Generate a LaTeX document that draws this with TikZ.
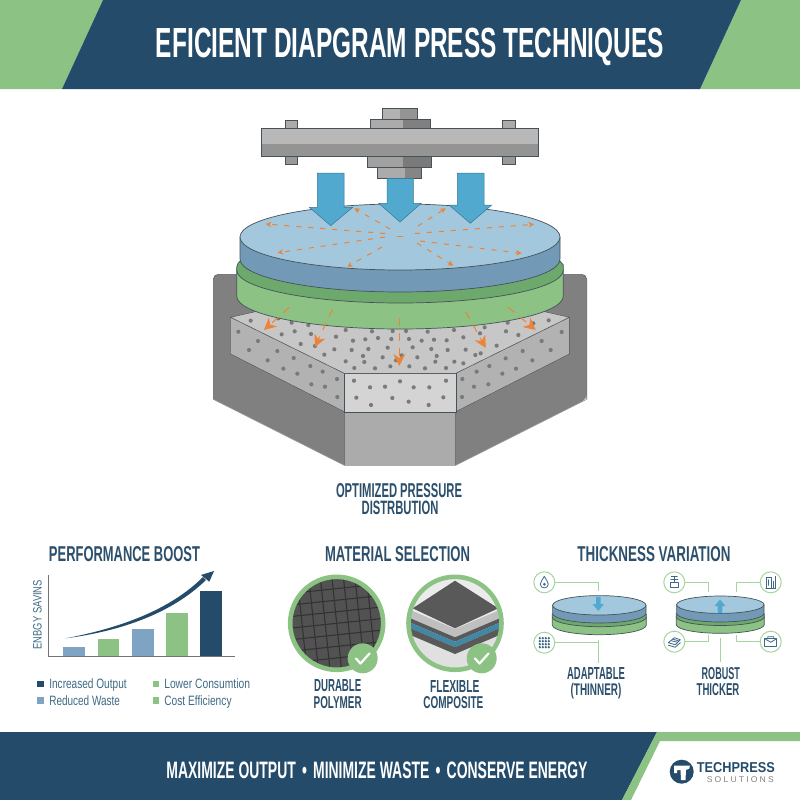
\documentclass[tikz,border=0pt]{standalone}
\usepackage{fontspec}
\usepackage{graphicx}
\usetikzlibrary{arrows.meta}
\newfontfamily\capsfont[BoldFont={Liberation Sans Bold}]{Liberation Sans}
\newfontfamily\spacedfont[LetterSpace=25]{Liberation Sans}
\definecolor{navy}{HTML}{244B69}
\definecolor{inknavy}{HTML}{2C4F6B}
\definecolor{leaf}{HTML}{8CC385}
\definecolor{darkleaf}{HTML}{6DA96C}
\definecolor{paleleaf}{HTML}{A5D5A0}
\definecolor{discblue}{HTML}{A3C8DE}
\definecolor{sideblue}{HTML}{7299B5}
\definecolor{pressblue}{HTML}{52A9CF}
\definecolor{orangeA}{HTML}{EE8236}
\definecolor{edge}{HTML}{46525A}
\definecolor{barblue}{HTML}{7FA3C2}
\definecolor{iconink}{HTML}{3D6A85}
\newcommand{\fitbox}[3]{\resizebox{#1pt}{#2pt}{\capsfont\bfseries #3}}
\newcommand{\fitreg}[3]{\resizebox{#1pt}{#2pt}{\capsfont #3}}
\newcommand{\smalldisc}[8]{%
 % cx, cy, rx, ry, blue thickness, dark-green centre, light-green centre, green rx
 \draw[discline,fill=leaf] ({#1-#8},#6) -- ({#1-#8},#7) arc[start angle=180,end angle=360,x radius=#8pt,y radius=#4pt] -- ({#1+#8},#6) -- cycle;
 \draw[discline,fill=darkleaf] ({#1-#8},#6-3) -- ({#1-#8},#6) arc[start angle=180,end angle=360,x radius=#8pt,y radius=#4pt] -- ({#1+#8},#6-3) -- cycle;
 \draw[discline,fill=sideblue] ({#1-#3},#2) -- ({#1-#3},#2+#5) arc[start angle=180,end angle=360,x radius=#3pt,y radius=#4pt] -- ({#1+#3},#2) -- cycle;
 \draw[discline,fill=discblue] (#1,#2) ellipse[x radius=#3pt,y radius=#4pt];
}
\tikzset{
 txt/.style={inner sep=0pt,outer sep=0pt,text=inknavy},
 steel/.style={draw=edge,line width=.6pt},
 discline/.style={draw=edge,line width=.7pt},
 pressarrow/.style={draw=black!30!pressblue,line width=.5pt,fill=pressblue},
 flowarrow/.style={draw=orangeA,line width=1pt,dash pattern=on 5pt off 7pt,-{Stealth[length=5.5pt,width=5.5pt]}},
 bigflow/.style={draw=orangeA,line width=1pt,dash pattern=on 8pt off 7pt,-{Stealth[length=12pt,width=12pt]}},
 iconring/.style={circle,draw=paleleaf,line width=1pt,minimum size=21pt,inner sep=0pt,fill=white},
 leader/.style={draw=paleleaf,line width=1pt},
 badge/.style={circle,fill=leaf,minimum size=30pt,inner sep=0pt},
 tick/.style={draw=white,line width=2.2pt,line cap=round,line join=round},
 ico/.style={draw=iconink,line width=.8pt,line cap=round,line join=round},
 legendbox/.style={minimum size=6.6pt,inner sep=0pt},
}
\begin{document}
\begin{tikzpicture}[x=1pt,y=-1pt]
\useasboundingbox (0,0) rectangle (800,800);
\fill[white] (0,0) rectangle (800,800);
% header
\fill[leaf] (0,0) -- (103,0) -- (62,89) -- (0,89) -- cycle;
\fill[leaf] (741,0) -- (800,0) -- (800,89) -- (700,89) -- cycle;
\fill[navy] (103,0) -- (741,0) -- (700,89) -- (62,89) -- cycle;
\node[txt,text=white,anchor=base] (title) at (410,58) {\fitbox{508}{29.4}{EFICIENT DIAPGRAM PRESS TECHNIQUES}};
% footer
\fill[navy] (0,732) -- (657,732) -- (622,800) -- (0,800) -- cycle;
\fill[leaf] (657,732) -- (800,732) -- (800,741) -- (660,741) -- (631,800) -- (622,800) -- cycle;
\node[txt,text=white] (slogan) at (377,770) {\fitbox{421}{16.6}{MAXIMIZE OUTPUT \,•\, MINIMIZE WASTE \,•\, CONSERVE ENERGY}};
% logo
\node[circle,fill=navy,minimum size=24pt,inner sep=0pt] (logo) at (681.7,771.7) {};
\fill[white] (674,765.5) -- (690,765.5) .. controls (690,768) and (689,770) .. (686,770) -- (685.5,780) -- (681,780) -- (680.5,770) -- (677,770) -- (677,773) -- (674,773) -- cycle;
\node[txt,text=navy] (tech) at (735.8,767.7) {\fitbox{78}{10}{TECHPRESS}};
\node[txt,text=black!50] (sol) at (740.3,779.2) {\resizebox{67pt}{5.8pt}{\spacedfont SOLUTIONS}};
% press base
\fill[black!50,rounded corners=5pt] (213.3,399.3) -- (213.3,274.3) -- (586.7,274.3) -- (586.7,399.3) [sharp corners] -- (455.7,465.3) -- (344.3,465.3) -- cycle;
\draw[black!62,line width=.6pt,rounded corners=5pt] (213.3,399.3) -- (213.3,274.3) -- (586.7,274.3) -- (586.7,399.3);
\draw[black!40,line width=.6pt] (213.3,399.3) -- (344.3,465.3) -- (455.7,465.3) -- (586.7,399.3);
\fill[black!33] (344.3,411.7) rectangle (455.7,465.3);
\draw[black!55,line width=.5pt] (344.3,411.7) -- (344.3,465.3) (455.7,411.7) -- (455.7,465.3);
% concrete block
\draw[edge,fill=black!30] (230.7,317.3) -- (230.7,354) -- (344.3,411.7) -- (344.3,373.3) -- cycle;
\draw[edge,fill=black!30] (569.3,317.3) -- (569.3,354) -- (455.7,411.7) -- (455.7,373.3) -- cycle;
\draw[edge,fill=black!17] (344.3,373.3) rectangle (455.7,411.7);
\draw[edge,fill=black!22] (230.7,317.3) -- (263,310) -- (537,310) -- (569.3,317.3) -- (455.7,373.3) -- (344.3,373.3) -- cycle;
\foreach \px/\py in {152/152,115/185,174/213,147/240,232/243,203/271,281/264,250/296,292/311,331/288,368/305,334/343,375/350,411/327,412/381,235/145,275/158,325/165,245/193,284/184,333/192,302/222,408/200,437/180,516/184,578/183,618/183,683/185,762/180,854/172,923/158,1000/160,1046/151,1085/186,1025/213,1052/240,968/243,997/271,917/265,948/296,907/311,868/288,830/305,865/343,822/350,787/327,786/381,459/212,496/208,534/204,574/207,627/207,665/212,702/209,740/211,790/202,840/190,890/227,918/184,955/195,345/228,403/238,455/240,505/237,563/233,638/232,694/237,743/240,797/239,842/250,373/254,489/258,548/262,605/256,652/262,710/258,826/255,437/274,493/276,588/271,706/275,763/275,463/294,525/295,571/289,628/289,675/295,738/294,790/280,462/332,510/352,555/350,600/334,641/352,688/352,738/332,469/383,513/405,577/384,626/395,686/405,730/382}
  \fill[black!52] ({200+\px/3},{270+\py/3}) circle[radius=2.1pt];
% press plate
\fill[black!30] (382.7,108) rectangle (400,119);
\fill[black!42] (400,108) rectangle (417.3,119);
\draw[steel] (382.7,108) rectangle (417.3,119);
\fill[black!33] (370,119) rectangle (403,128.3);
\fill[black!50] (403,119) rectangle (430,128.3);
\draw[steel] (370,119) rectangle (430,128.3);
\foreach \bx in {285,502.3} {
  \fill[black!33] (\bx,120) rectangle +(12.7,8.3);
  \draw[steel] (\bx,120) rectangle +(12.7,8.3);
  \fill[black!40] (\bx,156.7) rectangle +(12.7,7.6);
  \draw[steel] (\bx,156.7) rectangle +(12.7,7.6);
}
\fill[black!37] (367.7,156.7) rectangle (403,167.7);
\fill[black!52] (403,156.7) rectangle (431.7,167.7);
\draw[steel] (367.7,156.7) rectangle (431.7,167.7);
\fill[black!33] (377.7,167.7) rectangle (405,178.3);
\fill[black!48] (405,167.7) rectangle (421.7,178.3);
\draw[steel] (377.7,167.7) rectangle (421.7,178.3);
\fill[black!28] (261.7,128.3) rectangle (538,144);
\fill[black!42] (261.7,144) rectangle (538,156.7);
\draw[steel] (261.7,128.3) rectangle (538,156.7);
% green layers
\draw[discline,fill=leaf] (236.7,270) -- (236.7,296) arc[start angle=180,end angle=360,x radius=163.3pt,y radius=33pt] -- (563.3,270) -- cycle;
\draw[discline,fill=darkleaf,rounded corners=2pt] (240,261) -- (236.7,265) [sharp corners] -- (236.7,270) arc[start angle=180,end angle=360,x radius=163.3pt,y radius=33pt] -- (563.3,265) -- (560,261) -- cycle;
% blue disc
\draw[discline,fill=sideblue] (240,237) -- (240,259) arc[start angle=180,end angle=360,x radius=160pt,y radius=33pt] -- (560,237) -- cycle;
\draw[discline,fill=discblue] (400,237) ellipse[x radius=160pt,y radius=33pt];
% radial arrows
\foreach \ex/\ey/\sx/\sy in {265.7/224/385/233.5, 277.7/252.7/385/237, 347.3/266.7/382/247, 354.3/208.3/390/229, 445.7/208.3/418/226, 534/224.3/415/233.5, 521.7/253.3/420/241, 453.3/265.7/417/243}
  \draw[flowarrow] (\sx,\sy) -- (\ex,\ey);
\draw[orangeA,line width=1pt] (397,236) -- (403,236);
% press arrows
\draw[pressarrow] (317.3,173) -- (344,173) -- (344,207.3) -- (352.7,207.3) -- (330.7,225.7) -- (309.3,207.3) -- (317.3,207.3) -- cycle;
\draw[pressarrow] (387,178.3) -- (413.3,178.3) -- (413.3,203.3) -- (421.3,203.3) -- (400,222) -- (378.7,203.3) -- (387,203.3) -- cycle;
\draw[pressarrow] (457.3,173) -- (484,173) -- (484,205) -- (491.7,205) -- (470.3,223.3) -- (449,205) -- (457.3,205) -- cycle;
% flow into the block
\draw[bigflow] (289.3,307.3) -- (264,330);
\draw[bigflow] (332.3,309.3) -- (315,347);
\draw[bigflow] (399.3,318.3) -- (399.3,366);
\draw[bigflow] (465.7,311.7) -- (485.7,348);
\draw[bigflow] (508.3,307.3) -- (535.7,330);
% captions
\node[txt] (cap1) at (399,490.3) {\fitbox{126}{14}{OPTIMIZED PRESSURE}};
\node[txt] (cap2) at (400,508.3) {\fitbox{76.7}{13.5}{DISTRBUTION}};
% section titles
\node[txt] (h1) at (124.5,554) {\fitbox{151}{15}{PERFORMANCE BOOST}};
\node[txt] (h2) at (397.5,554) {\fitbox{145}{15}{MATERIAL SELECTION}};
\node[txt] (h3) at (654,554) {\fitbox{153}{15}{THICKNESS VARIATION}};
% chart
\fill[barblue] (62.7,647.3) rectangle (85,656.7);
\fill[leaf] (98,639.3) rectangle (119.3,656.7);
\fill[barblue] (132.3,629) rectangle (153.7,656.7);
\fill[leaf] (166.3,613.3) rectangle (187.7,656.7);
\fill[navy] (200.3,591.3) rectangle (221.7,656.7);
\draw[black!55,line width=.9pt] (48.3,575) -- (48.3,656.7) -- (235,656.7);
\fill[navy] (65.7,638.3) .. controls (120,628) and (170,610) .. (203,577) -- (206,580) .. controls (172,613) and (122,631) .. cycle;
\fill[navy] (214,571) -- (201,575) -- (209.3,581.7) -- cycle;
\node[txt,rotate=90,text=iconink] (ylab) at (37.5,614.7) {\fitreg{69.3}{8.5}{ENBGY SAVINS}};
% legend
\node[legendbox,fill=navy] (k1) at (40.7,684) {};
\node[legendbox,fill=barblue] (k2) at (40.7,700.3) {};
\node[legendbox,fill=leaf] (k3) at (156,684) {};
\node[legendbox,fill=leaf] (k4) at (156,700.3) {};
\node[txt,anchor=base west,text=iconink] (l1) at (49.3,688.5) {\fitreg{77.4}{9.8}{Increased Output}};
\node[txt,anchor=base west,text=iconink] (l2) at (49.3,705) {\fitreg{70.7}{9.8}{Reduced Waste}};
\node[txt,anchor=base west,text=iconink] (l3) at (164.3,688.5) {\fitreg{85.7}{9.8}{Lower Consumtion}};
\node[txt,anchor=base west,text=iconink] (l4) at (164.3,705) {\fitreg{67.3}{9.8}{Cost Efficiency}};
% material circles
\begin{scope}
\clip (336.7,623.3) circle[radius=46pt];
\fill[black!68] (280,570) rectangle (395,680);
\begin{scope}[rotate around={6:(336.7,623.3)}]
\foreach \k in {-5,...,5} {
  \draw[black!80,line width=1.1pt] ({336.7+\k*11.5},560) -- ({336.7+\k*11.5},690);
  \draw[black!80,line width=1.1pt] (275,{623.3+\k*11.5}) -- (400,{623.3+\k*11.5});
}
\end{scope}
\end{scope}
\draw[leaf,line width=4.6pt] (336.7,623.3) circle[radius=46.5pt];
\begin{scope}
\clip (455,623.3) circle[radius=46pt];
\fill[black!8] (400,570) rectangle (510,680);
\fill[black!12] (400,628) rectangle (510,680);
\fill[black!65] (455,580.7) -- (498.3,608.3) -- (455,628.3) -- (412.7,608.3) -- cycle;
\fill[black!25] (408,609) -- (455,629) -- (502,609) -- (502,617.3) -- (455,637.3) -- (408,617.3) -- cycle;
\fill[black!65] (408,617.3) -- (455,637.3) -- (502,617.3) -- (502,621.7) -- (455,641.7) -- (408,621.7) -- cycle;
\fill[black!20!pressblue] (408,621.7) -- (455,641.7) -- (502,621.7) -- (502,627.3) -- (455,647.3) -- (408,627.3) -- cycle;
\fill[black!65] (408,627.3) -- (455,647.3) -- (502,627.3) -- (502,634) -- (455,654) -- (408,634) -- cycle;
\end{scope}
\draw[leaf,line width=4.6pt] (455,623.3) circle[radius=46.5pt];
\node[badge] (b1) at (362.7,658.3) {};
\node[badge] (b2) at (481.7,658.3) {};
\draw[tick] (356,658.5) -- (360.5,663.5) -- (369.5,653.5);
\draw[tick] (475,658.5) -- (479.5,663.5) -- (488.5,653.5);
\node[txt] (m1) at (337.7,686) {\fitbox{47.3}{12}{DURABLE}};
\node[txt] (m2) at (337.7,702.7) {\fitbox{48}{12}{POLYMER}};
\node[txt] (m3) at (454.7,686) {\fitbox{49.3}{12}{FLEXIBLE}};
\node[txt] (m4) at (453.3,702.7) {\fitbox{60}{12}{COMPOSITE}};
% thickness discs
\smalldisc{599.3}{605.3}{46.7}{9.7}{8}{617}{625}{47}
\smalldisc{720.3}{604.7}{43.7}{8.7}{8.6}{616.8}{624.6}{44}
\fill[pressblue] (596,596.7) -- (600.7,596.7) -- (600.7,604) -- (604,604) -- (598.3,611) -- (592.6,604) -- (596,604) -- cycle;
\fill[pressblue] (717.7,613) -- (722.3,613) -- (722.3,606) -- (725.5,606) -- (720,599.5) -- (714.5,606) -- (717.7,606) -- cycle;
% icon rings
\node[iconring] (ia) at (544.3,582.3) {};
\node[iconring] (ib) at (544.3,642.7) {};
\node[iconring] (ic) at (674.3,582.3) {};
\node[iconring] (id) at (770.7,582.3) {};
\node[iconring] (ie) at (674.3,641.7) {};
\node[iconring] (if) at (770.7,641.7) {};
% leaders
\coordinate (ca) at (598.3,591);
\coordinate (cb) at (598.3,640);
\coordinate (cb2) at (598.3,662.7);
\coordinate (cc) at (708.7,592.3);
\coordinate (cd) at (736.7,592.3);
\coordinate (ce) at (708.7,635.3);
\coordinate (cf) at (736.7,635.3);
\coordinate (cg) at (720,638.3);
\coordinate (cg2) at (720,662.3);
\draw[leader] (ia.east) -| (ca);
\draw[leader] (ib.east) -| (cb);
\draw[leader] (cb) -- (cb2);
\draw[leader] (ic.east) -| (cc);
\draw[leader] (id.west) -| (cd);
\draw[leader] (ie.east) -| (ce);
\draw[leader] (if.west) -| (cf);
\draw[leader] (cg) -- (cg2);
% icon glyphs
\begin{scope}[shift={(544.3,582.3)}]
\draw[ico] (0,-6) .. controls (-1.5,-2.5) and (-4,-1) .. (-4,2) .. controls (-4,4.5) and (-2,5.5) .. (0,5.5) .. controls (2,5.5) and (4,4.5) .. (4,2) .. controls (4,-1) and (1.5,-2.5) .. (0,-6) -- cycle;
\fill[iconink] (0,2) circle[radius=1.5pt];
\end{scope}
\begin{scope}[shift={(544.3,642.7)}]
\foreach \gx in {-4.5,-1.5,1.5,4.5} \foreach \gy in {-4.5,-1.5,1.5,4.5}
  \fill[iconink] (\gx,\gy) circle[radius=1.3pt];
\end{scope}
\begin{scope}[shift={(674.3,582.3)}]
\draw[ico] (-4,0) rectangle (4,5);
\draw[ico] (-3,-6) -- (3,-6) (0,-6) -- (0,0) (-3.5,-3) -- (3.5,-3);
\end{scope}
\begin{scope}[shift={(770.7,582.3)}]
\draw[ico] (-5,6) -- (5,6) (-4,6) -- (-4,-5) -- (1,-5) -- (1,6) (-2,-2.5) -- (-2,3) (3,6) -- (3,-1) (4.5,6) -- (4.5,-6);
\end{scope}
\begin{scope}[shift={(674.3,641.7)}]
\draw[ico] (-6,1) -- (0,-4) -- (6,-2) -- (1,3) -- cycle;
\draw[ico] (-6,3.5) -- (1,5.5) -- (6,1) (-3,-1) -- (3,0.5) (-1.5,-2.5) -- (4,-1);
\end{scope}
\begin{scope}[shift={(770.7,641.7)}]
\draw[ico] (-6,-3) -- (6,-3) -- (6,5) -- (-6,5) -- cycle;
\draw[ico] (-6,-3) -- (0,0.5) -- (6,-3) (-3,-3) -- (-3,-5) -- (3,-5) -- (3,-3);
\end{scope}
\node[txt,anchor=base] (t1) at (596,679.3) {\fitbox{57.7}{12}{ADAPTABLE}};
\node[txt,anchor=base] (t2) at (596,695.5) {\fitbox{50.7}{12.2}{(THINNER)}};
\node[txt,anchor=base] (t3) at (720.8,679.3) {\fitbox{38.3}{12}{ROBUST}};
\node[txt,anchor=base] (t4) at (718,695.5) {\fitbox{42.7}{12}{THICKER}};
\end{tikzpicture}
\end{document}
